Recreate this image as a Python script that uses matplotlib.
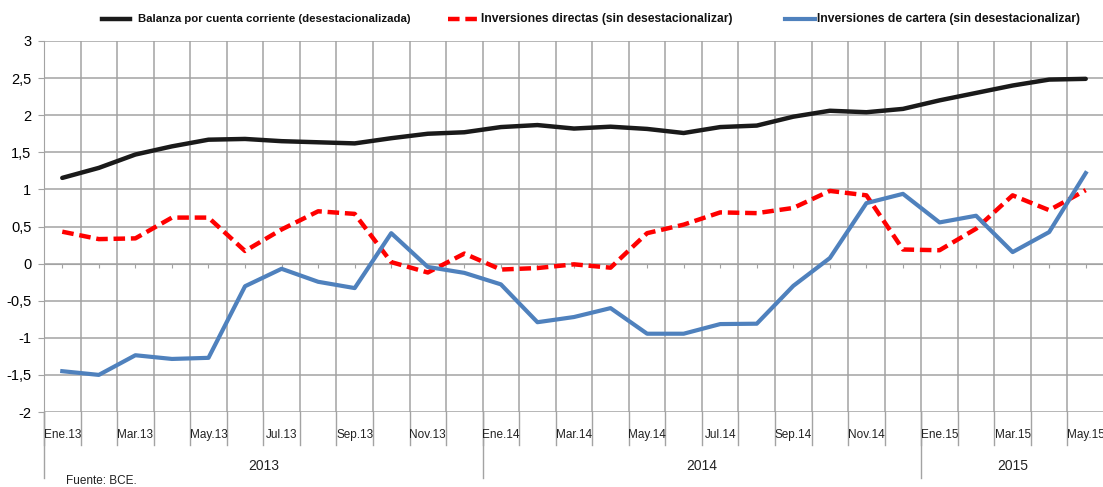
import numpy as np
import matplotlib
matplotlib.use("Agg")
import matplotlib.pyplot as plt
from matplotlib.lines import Line2D
from matplotlib import font_manager as fm
import matplotlib.transforms as mtrans

names = {f.name for f in fm.fontManager.ttflist}
NARROW = 'Liberation Sans Narrow' if 'Liberation Sans Narrow' in names else 'Liberation Sans'
plt.rcParams['font.family'] = ['Liberation Sans', 'DejaVu Sans']

# ---------------- data ----------------
months = ['Ene.13', 'Feb.13', 'Mar.13', 'Abr.13', 'May.13', 'Jun.13', 'Jul.13', 'Ago.13',
          'Sep.13', 'Oct.13', 'Nov.13', 'Dic.13',
          'Ene.14', 'Feb.14', 'Mar.14', 'Abr.14', 'May.14', 'Jun.14', 'Jul.14', 'Ago.14',
          'Sep.14', 'Oct.14', 'Nov.14', 'Dic.14',
          'Ene.15', 'Feb.15', 'Mar.15', 'Abr.15', 'May.15']
years = ['2013', '2014', '2015']
year_counts = [12, 12, 5]

balanza = [1.155, 1.29, 1.47, 1.58, 1.67, 1.68, 1.65, 1.635, 1.62, 1.69, 1.75, 1.77,
           1.84, 1.867, 1.82, 1.845, 1.815, 1.76, 1.84, 1.86, 1.98, 2.06, 2.04, 2.085,
           2.20, 2.30, 2.40, 2.48, 2.49]
directas = [0.43, 0.33, 0.34, 0.62, 0.62, 0.17, 0.46, 0.705, 0.67, 0.02, -0.12, 0.135,
            -0.08, -0.06, -0.01, -0.055, 0.41, 0.525, 0.69, 0.68, 0.75, 0.98, 0.92, 0.19,
            0.18, 0.47, 0.92, 0.72, 0.99]
cartera = [-1.45, -1.50, -1.235, -1.285, -1.27, -0.305, -0.07, -0.245, -0.33, 0.41, -0.045, -0.125,
           -0.28, -0.79, -0.72, -0.60, -0.945, -0.945, -0.815, -0.81, -0.30, 0.075, 0.815, 0.94,
           0.555, 0.645, 0.155, 0.425, 1.22]

labels = ['Balanza por cuenta corriente (desestacionalizada)',
          'Inversiones directas (sin desestacionalizar)',
          'Inversiones de cartera (sin desestacionalizar)']
yticks = [-2, -1.5, -1, -0.5, 0, 0.5, 1, 1.5, 2, 2.5, 3]

# ---------------- figure ----------------
W, H = 1103, 487
fig = plt.figure(figsize=(W / 100, H / 100), dpi=100)
ax = fig.add_axes([44 / W, (H - 412) / H, 1060 / W, 371 / H])

GRID = '#a3a3a3'
x = np.arange(len(months))
n = len(months)

ax.set_xlim(-0.5, n - 0.5)
ax.set_ylim(-2, 3)

# grid
for b in np.arange(-0.5, n, 1.0):
    ax.axvline(b, color=GRID, lw=1.1, zorder=1)
for v in yticks:
    ax.axhline(v, color=GRID, lw=1.1, zorder=1)

ax.plot(x, balanza, color='#1a1a1a', lw=3.2, solid_capstyle='round', solid_joinstyle='round', zorder=4)
ax.plot(x, directas, color='#ff0000', lw=3.2, dashes=(2.6, 1.3), dash_capstyle='butt', zorder=3)
ax.plot(x, cartera, color='#4f81bd', lw=3.0, solid_joinstyle='round', zorder=3)

# spines
for s in ['top', 'right']:
    ax.spines[s].set_visible(False)
ax.spines['left'].set_color(GRID)
ax.spines['bottom'].set_position(('data', 0))
ax.spines['bottom'].set_color(GRID)
ax.set_xticks(x)
ax.tick_params(axis='x', direction='out', length=3, color=GRID, labelbottom=False)
ax.set_yticks(yticks)
ax.set_yticklabels([('%g' % v).replace('.', ',') for v in yticks], fontsize=10.5)
ax.tick_params(axis='y', direction='out', length=4, color=GRID, pad=5)

# category axis below
trans = mtrans.blended_transform_factory(ax.transData, fig.transFigure)
def fy(py):
    return 1 - py / H

for b in np.arange(-0.5, n, 1.0):
    ax.add_line(Line2D([b, b], [fy(412), fy(445)], transform=trans, color=GRID, lw=1.0, clip_on=False))
bounds = np.concatenate([[0], np.cumsum(year_counts)]) - 0.5
for b in bounds[:-1]:
    ax.add_line(Line2D([b, b], [fy(412), fy(478)], transform=trans, color=GRID, lw=1.0, clip_on=False))

for i in range(0, n, 2):
    ax.text(x[i], fy(435), months[i], transform=trans, ha='center', va='center',
            fontsize=8.5, family=[NARROW, 'DejaVu Sans'], color='#222222')
for k, yl in enumerate(years):
    c = (bounds[k] + bounds[k + 1]) / 2
    ax.text(c, fy(466), yl, transform=trans, ha='center', va='center',
            fontsize=10, family=[NARROW, 'DejaVu Sans'], color='#222222')

fig.text(66 / W, fy(481), 'Fuente: BCE.', fontsize=8.5, ha='left', va='center', color='#222222')

# legend
ly = fy(19)
leg = [((102, 130), 138, '#1a1a1a', None, 3.2, 8.2),
       ((448, 478), 481, '#ff0000', (2.6, 1.3), 3.2, 8.7),
       ((785, 815), 817, '#4f81bd', None, 3.0, 8.7)]
for (x0, x1), tx, col, dsh, lw, fs in leg:
    ln = Line2D([x0 / W, x1 / W], [ly, ly], transform=fig.transFigure, color=col, lw=lw)
    if dsh:
        ln.set_dashes(dsh)
        ln.set_dash_capstyle('butt')
    fig.add_artist(ln)
for (xx, tx, col, dsh, lw, fs), lab in zip(leg, labels):
    fig.text(tx / W, ly, lab, fontsize=fs, fontweight='bold', ha='left', va='center',
             family=[NARROW, 'DejaVu Sans'], color='#111111')

fig.savefig('out.png', dpi=100)
